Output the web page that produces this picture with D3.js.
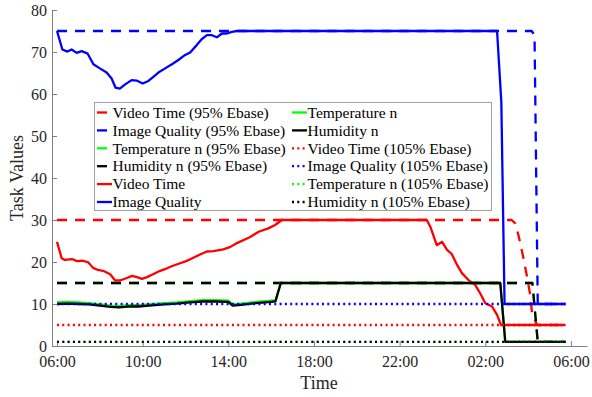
<!DOCTYPE html>
<html lang="en">
<head>
	<meta charset="UTF-8">
	<title>Task Values</title>
	<script src="https://cdn.jsdelivr.net/npm/d3@7"></script>
	<style>
		body { margin: 0; background: #fff; }
		svg text { font-family: "Liberation Serif", "Times New Roman", serif !important; }
		.axis path, .axis line { stroke: #808080; }
		.axis text { fill: #262626; font-size: 16px; }
	</style>
</head>
<body>
	<svg id="svg"></svg>
	<script>
		// time ticks along the x axis (hours after 06:00)
		var tickHours = [0, 4, 8, 12, 16, 20, 24];
		var tickLabels = ["06:00", "10:00", "14:00", "18:00", "22:00", "02:00", "06:00"];
		var yTicks = [0, 10, 20, 30, 40, 50, 60, 70, 80];

		// [time, value]
		var videoTime95 = [["06:00", 30], ["03:14", 30], ["03:24", 29.2], ["03:34", 26], ["03:46", 21.3],
			["03:57", 16.5], ["04:06", 12.1], ["04:11", 7.8], ["04:25", 5], ["05:45", 5]];
		var imageQuality95 = [["06:00", 75], ["04:10", 75], ["04:18", 74], ["04:27", 10], ["05:45", 10]];
		var temperature95 = [["06:00", 15], ["04:12", 15], ["04:27", 1], ["05:45", 1]];
		var humidity95 = [["06:00", 15], ["04:12", 15], ["04:27", 1], ["05:45", 1]];

		var videoTime = [["06:00", 24.8], ["06:13", 20.9], ["06:22", 20.5], ["06:42", 20.7], ["06:56", 20.2],
			["07:13", 20.3], ["07:28", 19.9], ["07:41", 18.6], ["07:55", 18.1], ["08:12", 17.8], ["08:29", 17.1],
			["08:43", 15.6], ["08:56", 15.6], ["09:16", 16.2], ["09:30", 16.7], ["09:44", 16.4], ["09:58", 16.0],
			["10:12", 16.4], ["10:29", 17.1], ["10:49", 17.9], ["11:08", 18.5], ["11:25", 19.1], ["11:45", 19.7],
			["12:02", 20.2], ["12:22", 21.0], ["12:41", 21.8], ["13:00", 22.5], ["13:18", 22.6], ["13:46", 23.0],
			["14:06", 23.6], ["14:24", 24.5], ["15:00", 25.9], ["15:25", 27.2], ["15:52", 28.0], ["16:11", 28.8],
			["16:30", 30], ["23:16", 30], ["23:26", 28.4], ["23:44", 24.0], ["23:59", 24.8], ["00:13", 22.9],
			["00:26", 21.9], ["00:41", 19.3], ["00:55", 17.3], ["01:13", 15.7], ["01:32", 14.5], ["01:46", 12.5],
			["02:00", 10.2], ["02:19", 9.4], ["02:33", 7.4], ["02:44", 5.0], ["05:45", 5]];
		var imageQuality = [["06:00", 75], ["06:15", 70.6], ["06:29", 70.1], ["06:41", 70.6], ["06:55", 69.8],
			["07:09", 70.2], ["07:26", 69.6], ["07:42", 67.1], ["08:00", 66.1], ["08:19", 65.1], ["08:33", 63.7],
			["08:44", 61.5], ["08:56", 61.3], ["09:11", 62.3], ["09:29", 63.3], ["09:43", 63.2], ["10:00", 62.5],
			["10:16", 63.1], ["10:30", 64.1], ["10:44", 65.1], ["11:03", 66.1], ["11:22", 67.1], ["11:40", 68.1],
			["11:59", 69.3], ["12:13", 69.9], ["12:32", 71.7], ["12:46", 73.1], ["13:00", 74.0], ["13:14", 74.0],
			["13:28", 73.5], ["13:42", 74.4], ["13:56", 74.4], ["14:10", 74.8], ["14:24", 75], ["02:33", 75],
			["02:45", 58], ["02:54", 10], ["05:45", 10]];
		var temperature = [["06:00", 10.4], ["06:30", 10.5], ["07:00", 10.4], ["07:30", 10.2], ["08:00", 9.9],
			["08:30", 9.6], ["08:54", 9.5], ["09:18", 9.7], ["09:48", 9.7], ["10:18", 9.9], ["11:00", 10.2],
			["11:36", 10.4], ["12:12", 10.7], ["12:48", 10.9], ["13:24", 10.9], ["14:00", 10.8], ["14:12", 9.9],
			["14:36", 10.1], ["15:18", 10.5], ["16:00", 10.8], ["16:12", 10.9], ["16:27", 15], ["02:42", 15],
			["02:56", 1], ["05:45", 1]];
		var humidity = [["06:00", 10.0], ["06:30", 10.1], ["07:00", 10.0], ["07:30", 9.9], ["08:00", 9.6],
			["08:30", 9.3], ["08:54", 9.2], ["09:18", 9.4], ["09:48", 9.4], ["10:18", 9.6], ["11:00", 9.9],
			["11:36", 10.1], ["12:12", 10.4], ["12:48", 10.6], ["13:24", 10.6], ["14:00", 10.5], ["14:12", 9.6],
			["14:36", 9.8], ["15:18", 10.2], ["16:00", 10.5], ["16:12", 10.6], ["16:27", 15], ["02:42", 15],
			["02:56", 1], ["05:45", 1]];

		var videoTime105 = [["06:00", 5], ["05:45", 5]];
		var imageQuality105 = [["06:00", 10], ["05:45", 10]];
		var temperature105 = [["06:00", 1], ["05:45", 1]];
		var humidity105 = [["06:00", 1], ["05:45", 1]];

		var series = [
			{ name: "Video Time (95% Ebase)", data: videoTime95, color: "#ff0000", dash: "10,8" },
			{ name: "Image Quality (95% Ebase)", data: imageQuality95, color: "#0000ff", dash: "10,8" },
			{ name: "Temperature n (95% Ebase)", data: temperature95, color: "#00ff00", dash: "10,8" },
			{ name: "Humidity n (95% Ebase)", data: humidity95, color: "#000000", dash: "10,8" },
			{ name: "Video Time", data: videoTime, color: "#ff0000", dash: null },
			{ name: "Image Quality", data: imageQuality, color: "#0000ff", dash: null },
			{ name: "Temperature n", data: temperature, color: "#00ff00", dash: null },
			{ name: "Humidity n", data: humidity, color: "#000000", dash: null },
			{ name: "Video Time (105% Ebase)", data: videoTime105, color: "#ff0000", dash: "2,3.3" },
			{ name: "Image Quality (105% Ebase)", data: imageQuality105, color: "#0000ff", dash: "2,3.3" },
			{ name: "Temperature n (105% Ebase)", data: temperature105, color: "#00ff00", dash: "2,3.3" },
			{ name: "Humidity n (105% Ebase)", data: humidity105, color: "#000000", dash: "2,3.3" }
		];

		var serif = "'Liberation Serif', 'Times New Roman', serif";

		function toHours(s) {
			var p = s.split(":");
			var t = +p[0] + p[1] / 60 - 6;
			if (t < 0) t += 24;
			return t;
		}

		var w = 592, h = 397;
		var svg = d3.select("#svg").attr("width", w).attr("height", h);

		var x = d3.scaleLinear().domain([-0.234, 24.75]).range([52, 587]);
		var y = d3.scaleLinear().domain([0, 80]).range([346, 10]);

		var gx = svg.append("g").attr("class", "axis")
			.attr("transform", "translate(0,346)")
			.call(d3.axisBottom(x).tickValues(tickHours)
				.tickFormat(function(d, i) { return tickLabels[i]; })
				.tickSizeInner(-5).tickSizeOuter(0).tickPadding(10));
		var gy = svg.append("g").attr("class", "axis")
			.attr("transform", "translate(52,0)")
			.call(d3.axisLeft(y).tickValues(yTicks)
				.tickSizeInner(-5).tickSizeOuter(0).tickPadding(5));
		gx.attr("font-family", serif).attr("font-size", 16);
		gy.attr("font-family", serif).attr("font-size", 16);

		svg.append("text")
			.attr("x", 319).attr("y", 389)
			.attr("text-anchor", "middle")
			.attr("font-family", serif)
			.attr("font-size", 18).attr("fill", "#262626")
			.text("Time");
		svg.append("text")
			.attr("transform", "translate(23,178) rotate(-90)")
			.attr("text-anchor", "middle")
			.attr("font-family", serif)
			.attr("font-size", 18).attr("fill", "#262626")
			.text("Task Values");

		var line = d3.line()
			.x(function(d) { return x(toHours(d[0])); })
			.y(function(d) { return y(d[1]); });

		series.forEach(function(s) {
			svg.append("path")
				.datum(s.data)
				.attr("d", line)
				.attr("fill", "none")
				.attr("stroke", s.color)
				.attr("stroke-width", 2.3)
				.attr("stroke-linejoin", "round")
				.attr("stroke-dasharray", s.dash);
		});

		// legend, two columns of six
		var lg = svg.append("g").attr("font-family", serif);
		lg.append("rect")
			.attr("x", 94.5).attr("y", 102.5)
			.attr("width", 397).attr("height", 108)
			.attr("fill", "#fff").attr("stroke", "#a0a0a0");
		series.forEach(function(s, i) {
			var col = Math.floor(i / 6), row = i % 6;
			var x0 = col ? 292 : 97, yy = 112.5 + row * 17.9;
			lg.append("line")
				.attr("x1", x0).attr("x2", x0 + 15)
				.attr("y1", yy).attr("y2", yy)
				.attr("stroke", s.color).attr("stroke-width", 2.3)
				.attr("stroke-dasharray", s.dash);
			lg.append("text")
				.attr("x", x0 + 15.5).attr("y", yy)
				.attr("dy", "0.34em")
				.attr("font-size", 15.5).attr("fill", "#000")
				.text(s.name);
		});
	</script>
</body>
</html>
